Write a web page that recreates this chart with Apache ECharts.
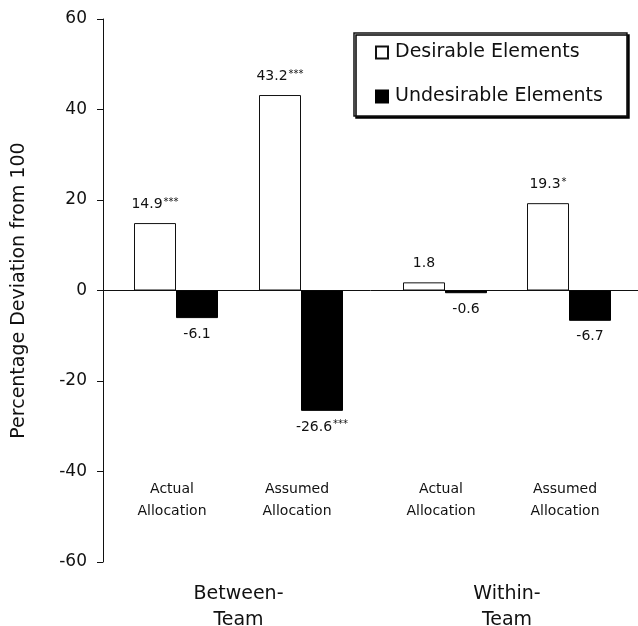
<!DOCTYPE html>
<html>
<head>
<meta charset="utf-8">
<script src="https://cdn.jsdelivr.net/npm/echarts@6/dist/echarts.min.js"></script>
<style>html,body{margin:0;padding:0;background:#fff}#c{width:638px;height:626px}</style>
</head>
<body>
<div id="c"></div>
<script>
// ---- data ----
const groups = ['Between-\nTeam', 'Within-\nTeam'];
const conditions = ['Actual\nAllocation', 'Assumed\nAllocation'];
const desirable = [14.9, 43.2, 1.8, 19.3];      // Between-Actual, Between-Assumed, Within-Actual, Within-Assumed
const undesirable = [-6.1, -26.6, -0.6, -6.7];
const desirableSig = ['***', '***', '', '*'];
const undesirableSig = ['', '***', '', ''];
const seriesNames = ['Desirable Elements', 'Undesirable Elements'];
const yMin = -60, yMax = 60, yStep = 20;
const yName = 'Percentage Deviation from 100';

const FONT = 'DejaVu Sans';
const INK = '#111';

function labelFor(v, sig) {
  const pos = v >= 0;
  return {
    show: true,
    position: pos ? 'top' : 'bottom',
    distance: pos ? 12 : 9,
    formatter: '{v|' + v + '}' + (sig ? '{s|' + sig + '}' : ''),
    rich: {
      v: { fontFamily: FONT, fontSize: 14, color: INK },
      s: { fontFamily: FONT, fontSize: 10, color: INK, verticalAlign: 'top', padding: [0, 0, 4, 1] }
    }
  };
}
function items(vals, sigs, from) {
  return [0, 1].map(i => ({ value: vals[from + i], label: labelFor(vals[from + i], sigs[from + i]) }));
}

const grids = [
  { left: 103, right: 0, top: 19, bottom: 64, outerBoundsMode: 'none', containLabel: false },
  { left: 113.5, width: 250, top: 19, bottom: 64, outerBoundsMode: 'none', containLabel: false },
  { left: 383, width: 248, top: 19, bottom: 64, outerBoundsMode: 'none', containLabel: false }
];

const xAxes = [
  { gridIndex: 0, type: 'category', data: [''], axisLine: { onZero: true, lineStyle: { color: INK, width: 1 } },
    axisTick: { show: false }, axisLabel: { show: false } }
];
const yAxes = [
  { gridIndex: 0, type: 'value', min: yMin, max: yMax, interval: yStep,
    name: yName, nameLocation: 'middle', nameGap: 74,
    nameTextStyle: { fontFamily: FONT, fontSize: 19, color: INK },
    axisLine: { show: true, lineStyle: { color: INK, width: 1 } },
    axisTick: { show: true, length: 6, lineStyle: { color: INK } },
    axisLabel: { fontFamily: FONT, fontSize: 17, color: INK, margin: 16 },
    splitLine: { show: false } }
];
[1, 2].forEach(g => {
  xAxes.push({ gridIndex: g, type: 'category', data: conditions, position: 'bottom', offset: -92,
    name: groups[g - 1], nameLocation: 'middle', nameGap: 111,
    nameTextStyle: { fontFamily: FONT, fontSize: 19, color: INK, lineHeight: 26 },
    axisLine: { show: false }, axisTick: { show: false },
    axisLabel: { fontFamily: FONT, fontSize: 14, color: INK, lineHeight: 22, margin: 8, padding: [0, 8, 0, 0] } });
  yAxes.push({ gridIndex: g, type: 'value', min: yMin, max: yMax, interval: yStep, show: false });
});

const series = [];
[1, 2].forEach(g => {
  const from = (g - 1) * 2;
  series.push({
    name: seriesNames[0], type: 'bar', xAxisIndex: g, yAxisIndex: g,
    barWidth: 42, barGap: '0%',
    itemStyle: { color: '#fff', borderColor: INK, borderWidth: 1 },
    data: items(desirable, desirableSig, from)
  });
  series.push({
    name: seriesNames[1], type: 'bar', xAxisIndex: g, yAxisIndex: g,
    barWidth: 42, barGap: '0%',
    itemStyle: { color: '#000', borderColor: '#000', borderWidth: 1 },
    data: items(undesirable, undesirableSig, from)
  });
});

const chart = echarts.init(document.getElementById('c'), null, { renderer: 'canvas' });
chart.setOption({
  animation: false,
  backgroundColor: '#fff',
  grid: grids,
  xAxis: xAxes,
  yAxis: yAxes,
  legend: {
    data: seriesNames,
    orient: 'vertical',
    left: 354, top: 33,
    padding: [10, 24, 10, 21],
    itemGap: 25,
    itemWidth: 12, itemHeight: 12,
    icon: 'rect',
    backgroundColor: '#fff',
    borderColor: INK, borderWidth: 1.5,
    shadowColor: '#000', shadowBlur: 0, shadowOffsetX: 2, shadowOffsetY: 2,
    textStyle: { fontFamily: FONT, fontSize: 19, color: INK, padding: [0, 0, 0, 2] },
    selectedMode: false
  },
  series: series
});
</script>
</body>
</html>
